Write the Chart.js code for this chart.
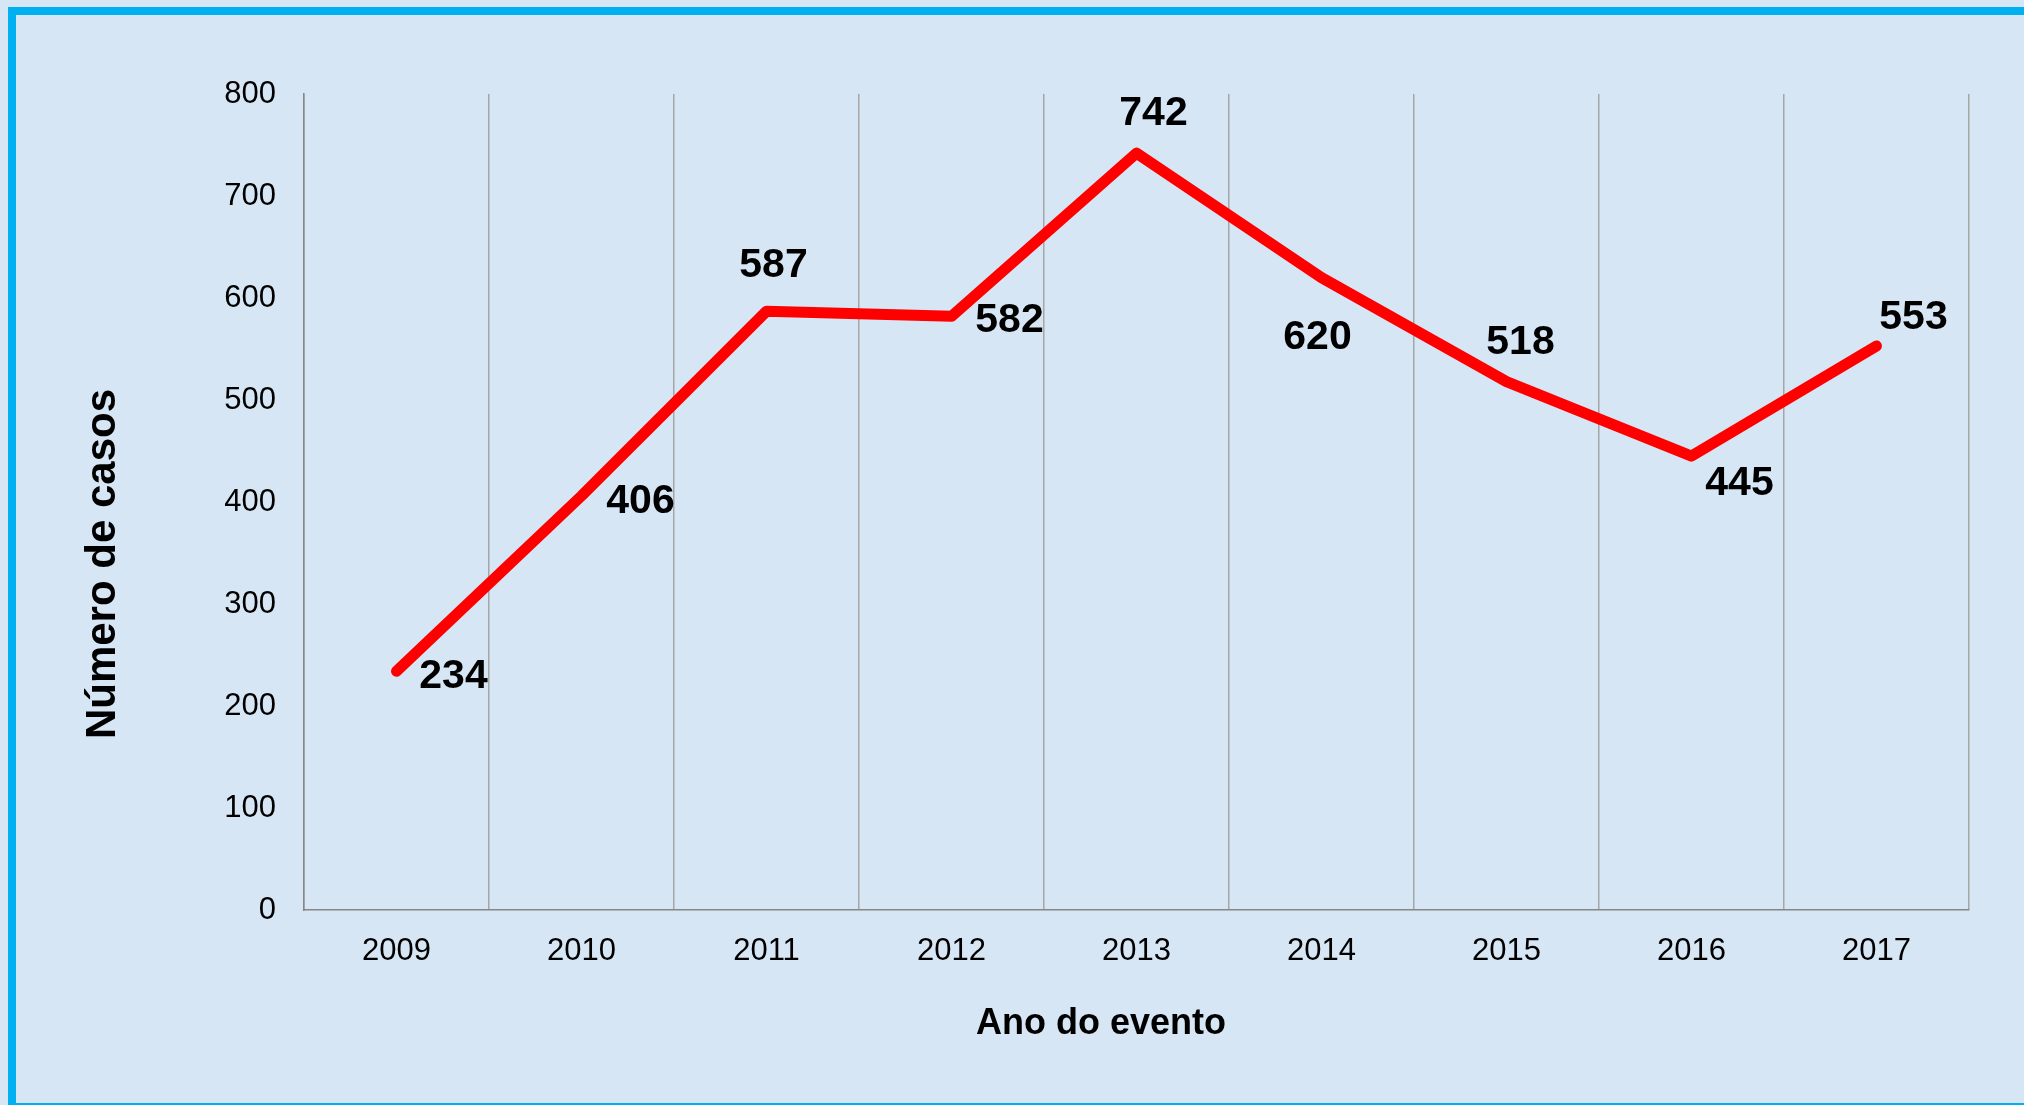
<!DOCTYPE html>
<html>
<head>
<meta charset="utf-8">
<script src="https://cdn.jsdelivr.net/npm/chart.js@4.4.1/dist/chart.umd.min.js"></script>
<style>
  html, body { margin: 0; padding: 0; background: #d7e6f5; overflow: hidden; }
  #frame {
    position: absolute; left: 8px; top: 7px; width: 2100px; height: 1088px;
    border-left: 8px solid #00b0f0; border-top: 8px solid #00b0f0; border-bottom: 8px solid #00b0f0;
  }
  #chart { position: absolute; left: 0; top: 0; }
</style>
</head>
<body>
<div id="frame"></div>
<canvas id="chart" width="2024" height="1105"></canvas>
<script>
        const years = ['2009', '2010', '2011', '2012', '2013', '2014', '2015', '2016', '2017'];
        const cases = [234, 406, 587, 582, 742, 620, 518, 445, 553];
        const yTicks = [0, 100, 200, 300, 400, 500, 600, 700, 800];

        // where each value label sits relative to its point (px)
        const labelDx = [57, 59, 7, 58, 17, -4, 14, 48, 37];
        const labelDy = [2, 2, -49, 1, -43, 57, -42, 24, -32];

        const fontFamily = '"Liberation Sans", Arial, sans-serif';
        Chart.defaults.font.family = fontFamily;
        Chart.defaults.color = '#000000';

        function drawCentered(ctx, text, x, y, size) {
            // y is the vertical centre of the capitals
            ctx.fillText(text, x, y + size * 0.358);
        }

        const valueLabels = {
            id: 'valueLabels',
            afterDatasetsDraw(chart) {
                const ctx = chart.ctx;
                const meta = chart.getDatasetMeta(0);
                ctx.save();
                ctx.font = 'bold 41px ' + fontFamily;
                ctx.fillStyle = '#000000';
                ctx.textAlign = 'center';
                ctx.textBaseline = 'alphabetic';
                meta.data.forEach((pt, i) => {
                    drawCentered(ctx, String(cases[i]), pt.x + labelDx[i], pt.y + labelDy[i], 41);
                });
                ctx.restore();
            }
        };

        const axisTitles = {
            id: 'axisTitles',
            afterDraw(chart) {
                const ctx = chart.ctx;
                const area = chart.chartArea;
                ctx.save();
                ctx.fillStyle = '#000000';
                ctx.textAlign = 'center';
                ctx.textBaseline = 'alphabetic';

                ctx.font = 'bold 36px ' + fontFamily;
                drawCentered(ctx, 'Ano do evento', area.left + 797, area.bottom + 111, 36);

                ctx.translate(area.left - 204, area.top + 470);
                ctx.rotate(-Math.PI / 2);
                ctx.font = 'bold 42px ' + fontFamily;
                drawCentered(ctx, 'Número de casos', 0, 0, 42);
                ctx.restore();
            }
        };

        new Chart(document.getElementById('chart'), {
            type: 'line',
            data: {
                labels: years,
                datasets: [{
                    data: cases,
                    borderColor: '#ff0000',
                    borderWidth: 11,
                    borderCapStyle: 'round',
                    borderJoinStyle: 'round',
                    pointRadius: 0,
                    tension: 0,
                    fill: false
                }]
            },
            options: {
                responsive: false,
                animation: false,
                layout: { padding: { left: 20, top: 94, right: 55, bottom: 0 } },
                plugins: {
                    legend: { display: false },
                    tooltip: { enabled: false }
                },
                scales: {
                    x: {
                        offset: true,
                        grid: { display: true, offset: true, drawTicks: false, color: '#a6a6a6', lineWidth: 1.5 },
                        border: { display: true, color: '#868686', width: 1.5 },
                        ticks: { font: { size: 31 }, padding: 23, maxRotation: 0 },
                        afterFit(scale) { scale.height = 195; }
                    },
                    y: {
                        min: 0,
                        max: 800,
                        afterBuildTicks(scale) { scale.ticks = yTicks.map(v => ({ value: v })); },
                        grid: { display: false, drawTicks: false },
                        border: { display: true, color: '#868686', width: 1.5 },
                        ticks: { font: { size: 31 }, padding: 28 },
                        afterFit(scale) { scale.width = 284; }
                    }
                }
            },
            plugins: [valueLabels, axisTitles]
        });
</script>
</body>
</html>
